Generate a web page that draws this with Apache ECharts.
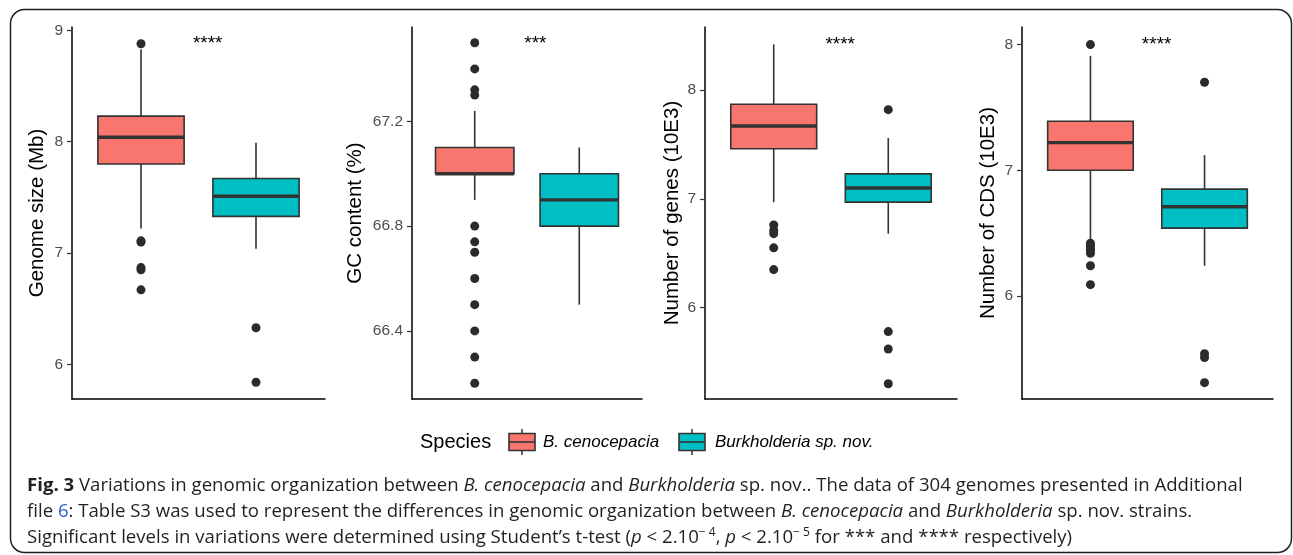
<!DOCTYPE html>
<html>
<head>
<meta charset="utf-8">
<script src="https://cdn.jsdelivr.net/npm/echarts@6/dist/echarts.min.js"></script>
<style>
html,body{margin:0;padding:0;background:#fff;}
#chart{width:1293px;height:555px;}
</style>
</head>
<body>
<div id="chart"></div>
<script>
// ---------------- data ----------------
const species = ['B. cenocepacia', 'Burkholderia sp. nov.'];
const speciesColors = ['#F8766D', '#00BFC4'];
const yTitles = ['Genome size (Mb)', 'GC content (%)', 'Number of genes (10E3)', 'Number of CDS (10E3)'];
const sigLabels = ['****', '***', '****', '****'];
const sigY = [8.875, 67.496, 8.417, 7.998];

// each box: [lower whisker, Q1, median, Q3, upper whisker]
const genomeSizeBox = [[7.22, 7.80, 8.04, 8.23, 8.83], [7.04, 7.33, 7.51, 7.67, 7.99]];
const genomeSizeOut = [[8.88, 7.11, 7.10, 6.87, 6.85, 6.67], [6.33, 5.84]];
const gcBox = [[66.9, 67.0, 67.0, 67.1, 67.24], [66.5, 66.8, 66.9, 67.0, 67.1]];
const gcOut = [[67.5, 67.4, 67.32, 67.3, 66.8, 66.74, 66.7, 66.6, 66.5, 66.4, 66.3, 66.2], []];
const genesBox = [[6.97, 7.46, 7.67, 7.87, 8.42], [6.68, 6.97, 7.10, 7.23, 7.56]];
const genesOut = [[6.76, 6.71, 6.68, 6.55, 6.35], [7.82, 5.78, 5.62, 5.30]];
const cdsBox = [[6.43, 7.00, 7.22, 7.39, 7.91], [6.24, 6.54, 6.71, 6.85, 7.12]];
const cdsOut = [[8.00, 6.42, 6.40, 6.38, 6.36, 6.34, 6.24, 6.09], [7.70, 5.54, 5.51, 5.31]];

const yTicks = [[6, 7, 8, 9], [66.4, 66.8, 67.2], [6, 7, 8], [6, 7, 8]];
const yRange = [[5.69, 9.03], [66.14, 67.56], [5.16, 8.58], [5.18, 8.14]];

const boxes = [genomeSizeBox, gcBox, genesBox, cdsBox];
const outliers = [genomeSizeOut, gcOut, genesOut, cdsOut];

// ---------------- layout ----------------
const FONT = "'Liberation Sans', Arial, Helvetica, sans-serif";
const gridPos = [
  {left: 72, width: 253},
  {left: 412, width: 230},
  {left: 705, width: 252},
  {left: 1022, width: 251}
];
const nameGaps = [24, 46, 22, 23];
const INK = '#333333';

const grids = [], xAxes = [], yAxes = [], series = [];
gridPos.forEach((g, i) => {
  grids.push({left: g.left, width: g.width, top: 27, height: 372});
  xAxes.push({
    type: 'value', gridIndex: i, min: 0.4, max: 2.6,
    axisLine: {show: true, onZero: false, lineStyle: {color: '#000', width: 1.5}},
    axisTick: {show: false}, axisLabel: {show: false}, splitLine: {show: false}
  });
  yAxes.push({
    type: 'value', gridIndex: i, min: yRange[i][0], max: yRange[i][1],
    name: yTitles[i], nameLocation: 'middle', nameGap: nameGaps[i],
    nameTextStyle: {fontFamily: FONT, fontSize: 20.5, color: '#000'},
    axisLine: {show: true, onZero: false, lineStyle: {color: '#000', width: 1.5}},
    axisTick: {show: true, length: 5, customValues: yTicks[i], lineStyle: {color: INK, width: 1.2}},
    axisLabel: {customValues: yTicks[i], color: '#4D4D4D', fontFamily: FONT, fontSize: 15.5, margin: 9,
      formatter: v => String(v)},
    splitLine: {show: false}
  });
  // box data: [x, low, q1, med, q3, high, speciesIndex]
  const boxData = boxes[i].map((b, k) => [k + 1, ...b, k]);
  series.push({
    type: 'custom', xAxisIndex: i, yAxisIndex: i, silent: true,
    data: boxData,
    renderItem: function (params, api) {
      const x = api.value(0);
      const k = api.value(6);
      const lo = api.coord([x, api.value(1)]);
      const q1 = api.coord([x, api.value(2)]);
      const md = api.coord([x, api.value(3)]);
      const q3 = api.coord([x, api.value(4)]);
      const hi = api.coord([x, api.value(5)]);
      const l = api.coord([x - 0.375, api.value(3)])[0];
      const r = api.coord([x + 0.375, api.value(3)])[0];
      return {
        type: 'group',
        children: [
          {type: 'line', shape: {x1: lo[0], y1: lo[1], x2: q1[0], y2: q1[1]}, style: {stroke: INK, lineWidth: 1.6}},
          {type: 'line', shape: {x1: q3[0], y1: q3[1], x2: hi[0], y2: hi[1]}, style: {stroke: INK, lineWidth: 1.6}},
          {type: 'rect', shape: {x: l, y: q3[1], width: r - l, height: q1[1] - q3[1]},
            style: {fill: speciesColors[k], stroke: INK, lineWidth: 1.6}},
          {type: 'line', shape: {x1: l, y1: md[1], x2: r, y2: md[1]}, style: {stroke: INK, lineWidth: 3.4}}
        ]
      };
    }
  });
  const outData = [];
  outliers[i].forEach((arr, k) => arr.forEach(v => outData.push([k + 1, v])));
  series.push({
    type: 'scatter', xAxisIndex: i, yAxisIndex: i, silent: true,
    symbol: 'circle', symbolSize: 9, itemStyle: {color: '#2b2b2b', opacity: 1},
    data: outData
  });
  // significance label (drawn at data coordinates)
  series.push({
    type: 'custom', xAxisIndex: i, yAxisIndex: i, silent: true,
    data: [[1.58, sigY[i]]],
    renderItem: function (params, api) {
      const p = api.coord([api.value(0), api.value(1)]);
      return {
        type: 'text', x: p[0], y: p[1],
        style: {text: sigLabels[i], fontFamily: FONT, fontSize: 19, fill: '#000',
          align: 'center', verticalAlign: 'middle'}
      };
    }
  });
});

// legend + caption as graphics
const legendY = 442;
function legendKey(x, color) {
  return {
    type: 'group', x: x, y: legendY,
    children: [
      {type: 'line', shape: {x1: 13, y1: -13, x2: 13, y2: 13}, style: {stroke: INK, lineWidth: 1.5}},
      {type: 'rect', shape: {x: 0, y: -8.5, width: 26, height: 17}, style: {fill: color, stroke: INK, lineWidth: 1.6}},
      {type: 'line', shape: {x1: 0, y1: 0, x2: 26, y2: 0}, style: {stroke: INK, lineWidth: 1.6}}
    ]
  };
}
const capFont = "'Open Sans', 'Noto Sans', sans-serif";
const CAP = 18.6;
const capRich = {
  b: {fontFamily: capFont, fontSize: CAP, fontWeight: 'bold', fill: '#231f20'},
  i: {fontFamily: capFont, fontSize: CAP, fontStyle: 'italic', fill: '#231f20'},
  l: {fontFamily: capFont, fontSize: CAP, fill: '#2a5bd7'},
  s: {fontFamily: capFont, fontSize: 12, fill: '#231f20', verticalAlign: 'top', padding: [0, 0, 9, 0]}
};
function capLine(y, text) {
  return {
    type: 'text', x: 27, y: y,
    style: {text: text, fontFamily: capFont, fontSize: CAP, fill: '#231f20',
      verticalAlign: 'middle', align: 'left', rich: capRich}
  };
}

const option = {
  animation: false,
  backgroundColor: '#fff',
  textStyle: {fontFamily: FONT},
  grid: grids, xAxis: xAxes, yAxis: yAxes, series: series,
  graphic: [
    {type: 'rect', shape: {x: 10.5, y: 9.5, width: 1281, height: 543, r: 14},
      style: {fill: 'none', stroke: '#231f20', lineWidth: 1.5}, silent: true},
    {type: 'text', x: 420, y: legendY, style: {text: 'Species', fontFamily: FONT, fontSize: 20, fill: '#000', verticalAlign: 'middle'}},
    legendKey(509, speciesColors[0]),
    {type: 'text', x: 543, y: legendY, style: {text: species[0], fontFamily: FONT, fontSize: 17, fontStyle: 'italic', fill: '#000', verticalAlign: 'middle'}},
    legendKey(679, speciesColors[1]),
    {type: 'text', x: 715, y: legendY, style: {text: species[1], fontFamily: FONT, fontSize: 17, fontStyle: 'italic', fill: '#000', verticalAlign: 'middle'}},
    capLine(486, '{b|Fig. 3} Variations in genomic organization between {i|B. cenocepacia} and {i|Burkholderia} sp. nov.. The data of 304 genomes presented in Additional'),
    capLine(512, 'file {l|6}: Table S3 was used to represent the differences in genomic organization between {i|B. cenocepacia} and {i|Burkholderia} sp. nov. strains.'),
    capLine(537.5, 'Significant levels in variations were determined using Student\u2019s t-test ({i|p} < 2.10{s|\u2212 4}, {i|p} < 2.10{s|\u2212 5} for *** and **** respectively)')
  ]
};

const chart = echarts.init(document.getElementById('chart'), null, {renderer: 'canvas'});
chart.setOption(option);
</script>
</body>
</html>
